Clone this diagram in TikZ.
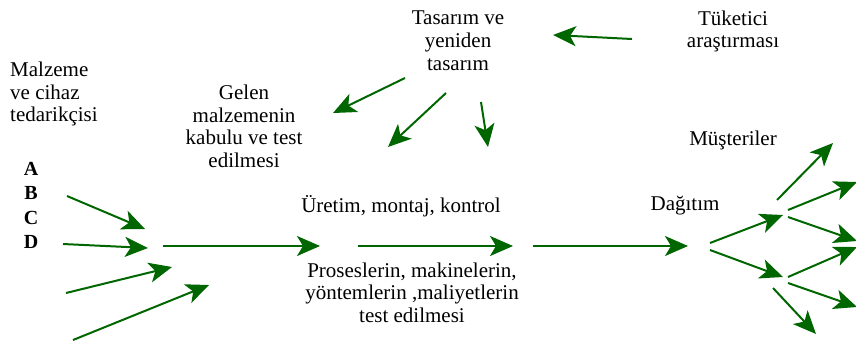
\documentclass[tikz,border=0pt]{standalone}
\usepackage{fontspec}
\setmainfont{Liberation Serif}
\usetikzlibrary{arrows.meta}
\begin{document}
\begin{tikzpicture}[x=1pt,y=-1pt,
  flow/.style={draw=green!40!black,line width=2pt,
    -{Stealth[length=23pt,width=20pt,inset=6pt]}},
  lbl/.style={font=\fontsize{21}{22.6}\selectfont,align=center,inner sep=0pt,anchor=north},
  letter/.style={font=\fontsize{20}{24}\selectfont\bfseries,inner sep=0pt,anchor=base}]
\useasboundingbox (0,0) rectangle (856,341);

% text blocks (north anchor sits one ascender above the first baseline)
\node[lbl,align=left,anchor=north west] (supplier) at (10,62) {Malzeme\\ve cihaz\\tedarikçisi};
\node[letter] (la) at (31,175) {A};
\node[letter] (lb) at (31,199.5) {B};
\node[letter] (lc) at (31,224) {C};
\node[letter] (ld) at (31,248.5) {D};
\node[lbl] (incoming) at (244,85) {Gelen\\malzemenin\\kabulu ve test\\edilmesi};
\node[lbl] (design) at (458,11) {Tasarım ve\\yeniden\\tasarım};
\node[lbl] (research) at (733,10.5) {Tüketici\\araştırması};
\node[lbl,anchor=base] (production) at (401,212) {Üretim, montaj, kontrol};
\node[lbl] (testing) at (412,262.5) {Proseslerin, makinelerin,\\yöntemlerin ,maliyetlerin\\test edilmesi};
\node[lbl,anchor=base] (distribution) at (685,210) {Dağıtım};
\node[lbl,anchor=base] (customers) at (733,145) {Müşteriler};

% arrow end points
\coordinate (s1) at (67,196);  \coordinate (e1) at (145,229);
\coordinate (s2) at (63,244);  \coordinate (e2) at (148,248);
\coordinate (s3) at (66,293);  \coordinate (e3) at (172,267);
\coordinate (s4) at (73,340);  \coordinate (e4) at (209,285);

\coordinate (m1s) at (163,246); \coordinate (m1e) at (320,246);
\coordinate (m2s) at (358,246); \coordinate (m2e) at (513,246);
\coordinate (m3s) at (533,246); \coordinate (m3e) at (688,246);

\coordinate (rs) at (632,39);  \coordinate (re) at (553,35);
\coordinate (d1s) at (405,78); \coordinate (d1e) at (333,113);
\coordinate (d2s) at (446,93); \coordinate (d2e) at (388,147);
\coordinate (d3s) at (481,102); \coordinate (d3e) at (488,147);

\coordinate (b1s) at (710,243); \coordinate (b1e) at (783,215);
\coordinate (b2s) at (710,250); \coordinate (b2e) at (783,277);

\coordinate (u1s) at (777,200); \coordinate (u1e) at (833,143);
\coordinate (u2s) at (788,210); \coordinate (u2e) at (857,182);
\coordinate (u3s) at (788,217); \coordinate (u3e) at (857,241);
\coordinate (l1s) at (788,277); \coordinate (l1e) at (857,247);
\coordinate (l2s) at (788,283); \coordinate (l2e) at (857,307);
\coordinate (l3s) at (773,288); \coordinate (l3e) at (816,334);

% supplier inputs
\draw[flow] (s1) -- (e1);
\draw[flow] (s2) -- (e2);
\draw[flow] (s3) -- (e3);
\draw[flow] (s4) -- (e4);

% main line
\draw[flow] (m1s) -- (m1e);
\draw[flow] (m2s) -- (m2e);
\draw[flow] (m3s) -- (m3e);

% design feedback
\draw[flow] (rs) -- (re);
\draw[flow] (d1s) -- (d1e);
\draw[flow] (d2s) -- (d2e);
\draw[flow] (d3s) -- (d3e);

% distribution tree
\draw[flow] (b1s) -- (b1e);
\draw[flow] (b2s) -- (b2e);
\draw[flow] (u1s) -- (u1e);
\draw[flow] (u2s) -- (u2e);
\draw[flow] (u3s) -- (u3e);
\draw[flow] (l1s) -- (l1e);
\draw[flow] (l2s) -- (l2e);
\draw[flow] (l3s) -- (l3e);
\end{tikzpicture}
\end{document}
